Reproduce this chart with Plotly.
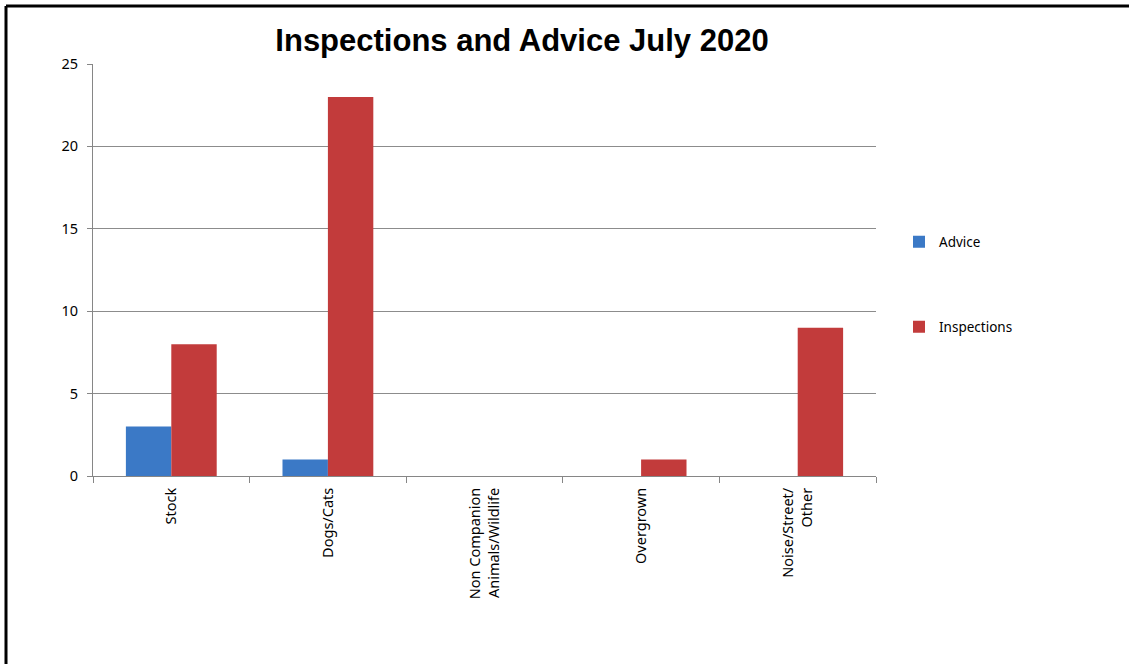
import plotly.graph_objects as go

categories = ["Stock", "Dogs/Cats", "Non Companion<br>Animals/Wildlife", "Overgrown", "Noise/Street/<br>Other"]
advice = [3, 1, 0, 0, 0]
inspections = [8, 23, 0, 1, 9]
y_ticks = [0, 5, 10, 15, 20, 25]

W, H = 1129, 664
L, R, T, B = 93, 253, 64, 188
pw, ph = W - L - R, H - T - B

def px_x(x):
    return (x - L) / pw

def px_y(y):
    return (H - B - y) / ph

fig = go.Figure()
fig.add_trace(go.Bar(
    x=categories, y=advice, name="Advice",
    marker=dict(color="#3b79c6", line=dict(width=0)),
    legend="legend",
))
fig.add_trace(go.Bar(
    x=categories, y=inspections, name="Inspections",
    marker=dict(color="#c23b3b", line=dict(width=0)),
    legend="legend2",
))

fig.update_layout(
    width=W, height=H,
    margin=dict(l=L, r=R, t=T, b=B, autoexpand=False),
    paper_bgcolor="white", plot_bgcolor="white",
    barmode="group", bargap=0.42, bargroupgap=0,
    font=dict(family="Noto Sans, Open Sans, sans-serif", size=14.5, color="#000000"),
    title=dict(
        text="<b>Inspections and Advice July 2020</b>",
        font=dict(family="Liberation Sans, Arial, sans-serif", size=31, color="#000000"),
        x=px_x(522), xref="paper", xanchor="center",
        y=1 - 40 / H, yref="container", yanchor="middle",
    ),
    xaxis=dict(
        tickangle=-90, tickson="boundaries", ticks="outside", ticklen=6,
        tickcolor="#868686", showline=True, linecolor="#868686", linewidth=1,
        showgrid=False, tickfont=dict(size=14.5), ticklabelstandoff=5,
    ),
    yaxis=dict(
        range=[0, 25], tickvals=y_ticks, ticks="outside", ticklen=5,
        tickcolor="#868686", showline=True, linecolor="#868686", linewidth=1,
        showgrid=True, gridcolor="#8c8c8c", gridwidth=1, zeroline=False,
        tickfont=dict(size=14.5), ticklabelstandoff=6,
    ),
    legend=dict(x=px_x(899), y=px_y(242), xanchor="left", yanchor="middle",
                font=dict(size=13.5), bgcolor="rgba(0,0,0,0)"),
    legend2=dict(x=px_x(899), y=px_y(327), xanchor="left", yanchor="middle",
                 font=dict(size=13.5), bgcolor="rgba(0,0,0,0)"),
    showlegend=True,
)

# outer frame (top and left edges visible in the reference)
fig.add_shape(type="line", xref="paper", yref="paper",
              x0=px_x(6), x1=px_x(1135), y0=px_y(6), y1=px_y(6),
              line=dict(color="#000000", width=3))
fig.add_shape(type="line", xref="paper", yref="paper",
              x0=px_x(6), x1=px_x(6), y0=px_y(6), y1=px_y(670),
              line=dict(color="#000000", width=3))

fig.write_html("out.html", config={"displayModeBar": False},
               post_script="document.body.style.margin='0px';")
